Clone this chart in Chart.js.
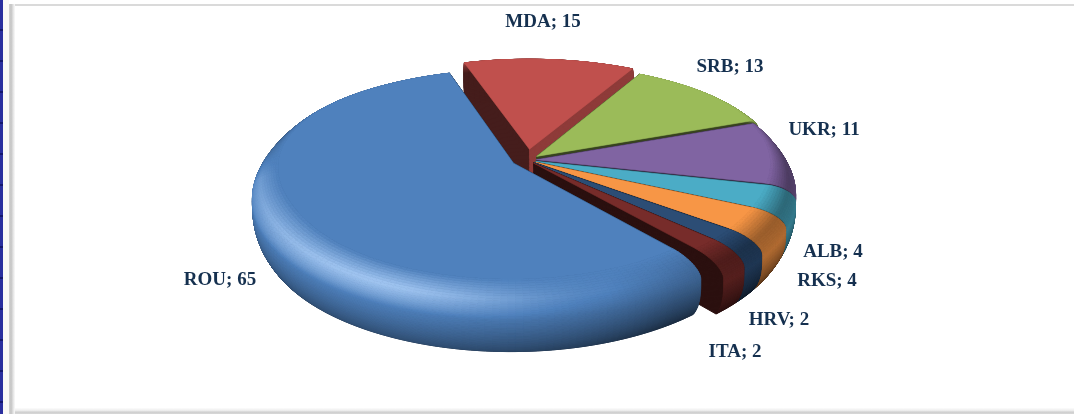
<!DOCTYPE html>
<html>
<head>
<meta charset="utf-8">
<script src="https://cdn.jsdelivr.net/npm/chart.js@4"></script>
<style>
  html, body { margin: 0; padding: 0; background: #fff; overflow: hidden; }
  #wrap { position: relative; width: 1074px; height: 414px; }
  #pie { position: absolute; left: 0; top: 0; }
  .strip { position: absolute; left: 0; top: 0; width: 3px; height: 414px;
    background: repeating-linear-gradient(#2b2f9e 0 29px, #15186e 29px 31px); }
  .gutter { position: absolute; left: 3px; top: 0; width: 6px; height: 414px; background: #fbf9f6; }
  .left { position: absolute; left: 9px; top: 4px; width: 6px; height: 410px;
    background: linear-gradient(90deg, #d4d4d4, #c4c4c4 35%, #e4e4e4 70%, #fafafa); }
  .top { position: absolute; left: 9px; top: 4px; right: 0; height: 2px; background: #dadada; }
  .bottom { position: absolute; left: 15px; right: 0; top: 408px; height: 6px;
    background: linear-gradient(#fcfcfc, #eeeeee 40%, #cfcfcf 70%, #d8d8d8); }
</style>
</head>
<body>
<div id="wrap">
  <div class="strip"></div><div class="gutter"></div>
  <div class="top"></div><div class="left"></div><div class="bottom"></div>
  <canvas id="pie" width="1074" height="414"></canvas>
</div>
<script>
const categories = ['ROU', 'MDA', 'SRB', 'UKR', 'ALB', 'RKS', 'HRV', 'ITA'];
const counts = [65, 15, 13, 11, 4, 4, 2, 2];
const sliceColors = ['#4f81bd', '#c0504d', '#9bbb59', '#8064a2', '#4bacc6', '#f79646', '#2c4d75', '#772c2a'];
// explosion of each slice, percent of the radius
const explode = [6, 10, 5, 3.6, 3.6, 3.6, 3.6, 3.6];
// brightness of the clockwise end wall of each slice
const endWall = [0.36, 0.74, 0.34, 0.3, 0.34, 0.34, 0.36, 0.36];
// where the text labels sit (centre x, baseline y)
const labelSpots = [[220, 285], [543, 27], [730, 72], [824, 135], [833, 257], [827, 286], [779, 325], [735, 357]];
// back to front
const paintOrder = [1, 2, 3, 4, 5, 6, 7, 0];

// fake 3d view
const CX = 527, CY = 160, RX = 255, RY = 111, PERSP = 0.18, DEPTH = 47;
const RIM_END = 0.4, STEPS = 40;

function project(u, t, drop) {
    const w = 1 / (1 - PERSP * t);
    return { x: CX + u * RX * w, y: CY + t * RY * w + drop * DEPTH * w };
}

function shade(hex, f) {
    const n = parseInt(hex.slice(1), 16);
    const c = [n >> 16, (n >> 8) & 255, n & 255].map(v => {
        const out = f <= 1 ? v * f : v + (255 - v) * (f - 1) * 0.75 + v * (f - 1) * 0.25;
        return Math.min(255, Math.round(out));
    });
    return `rgb(${c[0]},${c[1]},${c[2]})`;
}

// bevel is wide at the front and almost gone at the back
function flatRadius(a) {
    let near = Math.max(0, Math.min(1, (Math.sin(a) + 0.75) / 1.35));
    near = near * near * (3 - 2 * near);
    return 0.985 - 0.115 * near;
}

// s = 0 inner edge of bevel, s = 1 bottom of the side
function profile(s, a) {
    const flat = flatRadius(a);
    if (s < RIM_END) {
        const q = s / RIM_END * Math.PI / 2;
        return { r: flat + (1 - flat) * Math.sin(q), drop: 0.28 * (1 - Math.cos(q)) };
    }
    const q = (s - RIM_END) / (1 - RIM_END);
    return { r: 1 - 0.035 * q * q * q, drop: 0.28 + 0.72 * q };
}

function rimLight(s, a) {
    // a: canvas angle, near side = PI/2; light comes from the lower left
    const near = Math.sin(a);
    const da = a - 2.05;
    const toLight = Math.cos(da * (da > 0 ? 0.75 : 1.5));
    const hi = Math.max(0, toLight);
    const farF = 1 - 0.64 * Math.min(1, s / RIM_END);
    const peak = 1 + 0.55 * Math.pow(hi, 3) - 0.3 * Math.max(0, 0.35 - toLight);
    const mid = 0.72 + 0.26 * hi;
    const low = 0.34 + 0.26 * hi;
    let f;
    if (s < 0.2) f = 1 + (peak - 1) * (s / 0.2);
    else if (s < 0.45) f = peak + (mid - peak) * ((s - 0.2) / 0.25);
    else f = mid + (low - mid) * ((s - 0.45) / 0.55);
    // left and right ends of the disc fade into the far side look
    const nearW = Math.max(0, Math.min(1, (near + 0.3) * 2.5));
    return farF + (f - farF) * nearW;
}

function drawSlice(ctx, el, color, endLight) {
    const a0 = el.startAngle, a1 = el.endAngle, mid = (a0 + a1) / 2;
    const off = el.options.offset / 100;
    const ou = Math.cos(mid) * off, ot = Math.sin(mid) * off;
    const pt = (a, s) => {
        const q = profile(s, a);
        return project(ou + Math.cos(a) * q.r, ot + Math.sin(a) * q.r, q.drop);
    };
    const n = Math.max(3, Math.ceil((a1 - a0) / 0.025));

    const wedge = s => {
        ctx.beginPath();
        const c = project(ou, ot, profile(s, a0).drop);
        ctx.moveTo(c.x, c.y);
        for (let i = 0; i <= n; i++) {
            const p = pt(a0 + (a1 - a0) * i / n, s);
            ctx.lineTo(p.x, p.y);
        }
        ctx.closePath();
    };

    // stack of wedges gives the straight walls
    ctx.fillStyle = ctx.strokeStyle = shade(color, 0.36);
    ctx.lineWidth = 1;
    for (let k = STEPS; k >= 0; k--) {
        wedge(k / STEPS);
        ctx.fill();
        ctx.stroke();
    }

    // rounded outer band, lit by angle
    ctx.lineWidth = 0.8;
    for (let k = STEPS; k > 0; k--) {
        const s1 = k / STEPS, s0 = (k - 1) / STEPS;
        for (let i = 0; i < n; i++) {
            const b0 = a0 + (a1 - a0) * i / n, b1 = a0 + (a1 - a0) * (i + 1) / n;
            const p1 = pt(b0, s0), p2 = pt(b1, s0), p3 = pt(b1, s1), p4 = pt(b0, s1);
            ctx.fillStyle = ctx.strokeStyle = shade(color, rimLight((k - 0.5) / STEPS, (b0 + b1) / 2));
            ctx.beginPath();
            ctx.moveTo(p1.x, p1.y);
            ctx.lineTo(p2.x, p2.y);
            ctx.lineTo(p3.x, p3.y);
            ctx.lineTo(p4.x, p4.y);
            ctx.closePath();
            ctx.fill();
            ctx.stroke();
        }
    }

    // clockwise wall can be lighter than the rest
    if (endLight > 0.5) {
        ctx.strokeStyle = shade(color, endLight);
        ctx.lineWidth = 2;
        for (let k = STEPS; k >= 0; k--) {
            const s = k / STEPS;
            const c = project(ou, ot, profile(s, a1).drop), p = pt(a1, s);
            ctx.beginPath();
            ctx.moveTo(c.x, c.y);
            ctx.lineTo(p.x, p.y);
            ctx.stroke();
        }
    }

    // flat top
    wedge(0);
    ctx.fillStyle = ctx.strokeStyle = color;
    ctx.lineWidth = 0.6;
    ctx.fill();
    ctx.stroke();
}

const pie3d = {
    id: 'pie3d',
    beforeDatasetsDraw(chart) {
        const ctx = chart.ctx;
        const arcs = chart.getDatasetMeta(0).data;
        ctx.save();
        ctx.lineJoin = 'round';
        paintOrder.forEach(i => drawSlice(ctx, arcs[i], sliceColors[i], endWall[i]));
        ctx.restore();
        return false;
    },
    afterDraw(chart) {
        const ctx = chart.ctx;
        ctx.save();
        ctx.font = 'bold 19px "Liberation Serif"';
        ctx.fillStyle = '#15304f';
        ctx.textAlign = 'center';
        categories.forEach((name, i) => {
            ctx.fillText(name + '; ' + counts[i], labelSpots[i][0], labelSpots[i][1]);
        });
        ctx.restore();
    }
};

new Chart(document.getElementById('pie'), {
    type: 'pie',
    data: {
        labels: categories,
        datasets: [{ data: counts, backgroundColor: sliceColors, offset: explode, borderWidth: 0 }]
    },
    options: {
        responsive: false,
        animation: false,
        rotation: 140.5,
        plugins: { legend: { display: false }, tooltip: { enabled: false } }
    },
    plugins: [pie3d]
});
</script>
</body>
</html>
